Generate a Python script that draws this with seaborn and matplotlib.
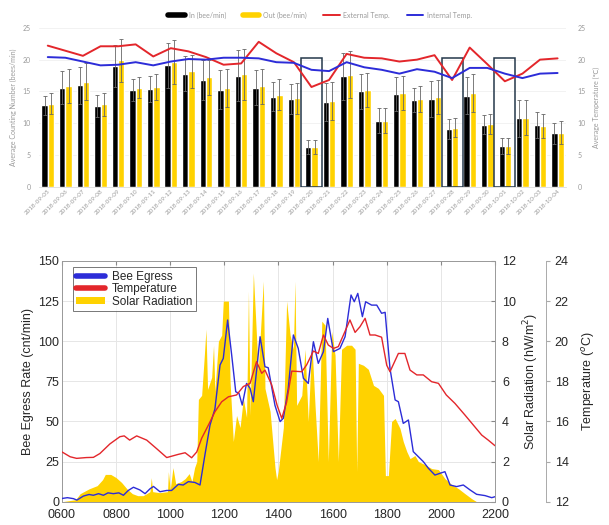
import numpy as np
import pandas as pd
import matplotlib
matplotlib.use("Agg")
import matplotlib.pyplot as plt
from matplotlib.lines import Line2D
from matplotlib.patches import Patch, Rectangle
import seaborn as sns

# ---------------- data: top chart ----------------
dates = ["2018-09-05", "2018-09-06", "2018-09-07", "2018-09-08", "2018-09-09", "2018-09-10",
         "2018-09-11", "2018-09-12", "2018-09-13", "2018-09-14", "2018-09-15", "2018-09-16",
         "2018-09-17", "2018-09-18", "2018-09-19", "2018-09-20", "2018-09-21", "2018-09-22",
         "2018-09-23", "2018-09-24", "2018-09-25", "2018-09-26", "2018-09-27", "2018-09-28",
         "2018-09-29", "2018-09-30", "2018-10-01", "2018-10-02", "2018-10-03", "2018-10-04"]
bee_in = [12.8, 15.6, 16.0, 12.7, 19.0, 15.2, 15.4, 19.1, 17.8, 16.8, 15.3, 17.5, 15.6, 14.2, 13.8,
          6.3, 13.3, 17.4, 15.0, 10.4, 14.6, 13.6, 13.8, 9.1, 14.3, 9.8, 6.4, 10.8, 9.7, 8.4]
bee_out = [13.1, 15.9, 16.5, 13.0, 19.9, 15.6, 15.7, 19.6, 18.2, 17.2, 15.5, 17.7, 15.8, 14.5, 13.9,
           6.3, 13.5, 17.6, 15.2, 10.4, 14.8, 13.8, 14.1, 9.3, 14.7, 9.9, 6.4, 10.9, 9.6, 8.5]
err_in = [1.5, 2.6, 2.9, 1.7, 3.3, 1.7, 2.0, 3.5, 2.8, 3.2, 3.1, 4.0, 2.7, 2.3, 2.3,
          1.1, 3.0, 3.7, 2.7, 2.0, 2.7, 1.9, 2.8, 1.5, 2.9, 1.5, 1.3, 2.9, 2.0, 1.7]
err_out = [1.6, 2.7, 2.9, 1.8, 3.4, 1.7, 2.1, 3.5, 2.6, 2.8, 3.0, 4.0, 2.7, 2.4, 2.5,
           1.1, 3.0, 3.7, 2.7, 2.0, 2.7, 2.0, 2.7, 1.5, 3.0, 1.6, 1.3, 2.8, 1.9, 1.8]
ext_temp = [22.2, 21.4, 20.6, 22.1, 22.1, 22.4, 20.5, 21.8, 21.3, 20.4, 19.2, 19.4, 22.8, 21.0, 19.6,
            15.7, 16.8, 20.9, 20.3, 20.2, 19.7, 20.0, 20.7, 16.8, 21.9, 19.3, 16.6, 17.8, 20.0, 20.2]
int_temp = [20.4, 20.3, 19.7, 19.1, 19.2, 19.6, 19.1, 19.7, 20.1, 20.0, 20.3, 20.3, 20.2, 19.6, 19.5,
            18.4, 18.2, 19.6, 18.8, 18.4, 17.8, 18.5, 18.1, 17.1, 18.7, 18.7, 17.8, 17.1, 17.8, 17.9]
boxed_dates = ["2018-09-20", "2018-09-28", "2018-10-01"]
box_top = 20.3

# ---------------- data: bottom chart ----------------
bee_hours = [6.0, 6.2, 6.42, 6.55, 6.79, 7.0, 7.16, 7.35, 7.53, 7.7, 7.9, 8.1, 8.27, 8.45, 8.64, 8.88,
             9.07, 9.25, 9.38, 9.62, 9.87, 10.05, 10.3, 10.48, 10.67, 10.91, 11.1, 11.28, 11.47, 11.65,
             11.84, 11.96, 12.12, 12.27, 12.42, 12.54, 12.66, 12.82, 12.95, 13.07, 13.32, 13.5, 13.62,
             13.87, 14.06, 14.18, 14.36, 14.55, 14.73, 14.92, 15.1, 15.29, 15.47, 15.66, 15.82, 16.03,
             16.27, 16.46, 16.68, 16.8, 16.93, 17.1, 17.22, 17.44, 17.63, 17.81, 17.94, 18.12, 18.31,
             18.43, 18.61, 18.8, 18.98, 19.17, 19.35, 19.54, 19.78, 19.97, 20.15, 20.34, 20.58, 20.83,
             21.08, 21.32, 21.63, 21.88, 22.0]
bee_rate = [2, 2.5, 1.9, 1, 3.5, 4.5, 4, 5, 4, 5.5, 5, 5.5, 4, 7, 9, 7.3,
            5, 8, 9.5, 6.2, 7, 7, 10.8, 10.4, 12.5, 12, 10.4, 29, 47.8, 57.7,
            85.2, 89.3, 113.2, 91.4, 68.5, 67.5, 60.2, 73.7, 70.6, 62.3, 102.8, 84.1, 83.5,
            60, 49.9, 52, 70.6, 103.9, 95.5, 76.9, 73.7, 99.7, 86.2, 93.5, 114.2, 93.5,
            95.5, 102.8, 128.8, 124.6, 129.8, 115.3, 124.6, 122.5, 122.5, 117.4, 118, 83, 63.4,
            62.3, 48.8, 50.9, 31.2, 28, 25, 20.8, 16.6, 17.7, 18.7, 10.4, 9.4, 10.4,
            7.3, 4.6, 3.8, 2.5, 3.1]

temp_hours = [6.0, 6.3, 6.54, 6.9, 7.16, 7.4, 7.77, 8.14, 8.3, 8.5, 8.76, 9.13, 9.5, 9.87, 10.3, 10.55,
              10.79, 10.98, 11.16, 11.41, 11.65, 11.9, 12.15, 12.45, 12.7, 12.95, 13.19, 13.38, 13.5,
              13.75, 13.95, 14.12, 14.3, 14.49, 14.86, 15.04, 15.29, 15.47, 15.66, 15.84, 16.03, 16.21,
              16.4, 16.64, 16.83, 17.01, 17.2, 17.38, 17.57, 17.81, 18.0, 18.12, 18.43, 18.67, 18.86,
              19.11, 19.35, 19.66, 19.91, 20.2, 20.52, 20.89, 21.2, 21.51, 21.75, 22.0]
temp_c = [14.48, 14.24, 14.16, 14.2, 14.21, 14.4, 14.88, 15.24, 15.28, 15.07, 15.28, 15.07, 14.64, 14.2,
          14.36, 14.44, 14.19, 14.48, 15.16, 15.82, 16.48, 16.98, 17.23, 17.32, 17.74, 17.9, 18.98, 18.4,
          18.56, 17.82, 16.8, 16.16, 16.96, 18.51, 18.48, 18.82, 19.51, 19.39, 20.31, 19.81, 19.64, 19.73,
          20.31, 21.06, 20.44, 20.72, 21.14, 20.31, 20.31, 20.2, 18.8, 18.48, 19.39, 19.39, 18.56,
          18.32, 18.32, 17.98, 17.9, 17.32, 16.9, 16.32, 15.82, 15.32, 15.07, 14.79]

solar_hours = [6.0, 6.5, 6.67, 7.0, 7.3, 7.5, 7.6, 7.8, 8.0, 8.2, 8.4, 8.6, 8.8, 9.0, 9.25, 9.3, 9.35,
               9.6, 9.9, 9.93, 10.0, 10.1, 10.2, 10.4, 10.55, 10.7, 10.8, 10.9, 10.98, 11.04, 11.16,
               11.26, 11.32, 11.38, 11.53, 11.6, 11.65, 11.78, 11.9, 11.96, 12.15, 12.21, 12.33, 12.45,
               12.58, 12.7, 12.82, 12.89, 12.95, 13.07, 13.16, 13.25, 13.44, 13.5, 13.69, 13.87, 13.93,
               13.99, 14.18, 14.3, 14.43, 14.55, 14.61, 14.67, 14.86, 14.98, 15.1, 15.23, 15.35, 15.47,
               15.6, 15.72, 15.84, 15.97, 16.09, 16.21, 16.33, 16.52, 16.7, 16.83, 16.89, 16.95, 17.14,
               17.32, 17.51, 17.69, 17.88, 17.95, 18.06, 18.18, 18.31, 18.49, 18.61, 18.74, 18.86,
               19.04, 19.17, 19.41, 19.66, 19.91, 20.15, 20.4, 20.65, 20.89, 21.14, 21.32, 22.0]
solar_rad = [0, 0.1, 0.4, 0.64, 0.8, 1.1, 1.36, 1.36, 1.2, 0.96, 0.64, 0.4, 0.3, 0.3, 0.5, 1.2, 0.5,
             0.45, 0.5, 1.5, 0.6, 1.7, 0.9, 1.0, 1.15, 1.4, 1.0, 1.7, 2.0, 5.1, 5.3,
             7.3, 8.6, 5.6, 6.2, 7.8, 5.5, 8.0, 8.3, 10.0, 10.0, 6.0, 3.0, 4.3,
             3.7, 5.15, 4.2, 10.5, 4.3, 11.4, 9.0, 6.5, 11.0, 5.65, 4.5, 1.7, 1.1,
             1.5, 3.7, 10.0, 8.3, 7.6, 11.0, 4.8, 5.3, 7.6, 4.0, 8.0, 4.8, 2.0,
             9.0, 8.8, 2.0, 8.5, 7.3, 2.0, 7.6, 7.8, 7.8, 7.6, 1.5, 6.9, 6.8,
             6.6, 5.8, 5.65, 5.3, 1.3, 1.3, 4.0, 4.15, 3.65, 3.0, 2.5, 2.15,
             2.3, 2.0, 1.85, 1.65, 1.6, 1.15, 0.85, 0.65, 0.4, 0.15, 0.0, 0.0]

hour_ticks = [6, 8, 10, 12, 14, 16, 18, 20, 22]
hour_labels = ["0600", "0800", "1000", "1200", "1400", "1600", "1800", "2000", "2200"]

# ---------------- style ----------------
sns.set_style("white")
plt.rcParams["font.family"] = ["Lato", "DejaVu Sans"]

GOLD = "#FFD200"
RED = "#E3262B"
BLUE = "#2C2CD8"
GREY = "#9a9a9a"

fig = plt.figure(figsize=(6.09, 5.25), dpi=100)

# ================= top chart =================
ax1 = fig.add_axes([0.064, 0.644, 0.866, 0.303])
df = pd.DataFrame({
    "date": dates * 2,
    "value": bee_in + bee_out,
    "kind": ["In (bee/min)"] * len(dates) + ["Out (bee/min)"] * len(dates),
})
sns.barplot(data=df, x="date", y="value", hue="kind", palette=["#000000", GOLD],
            width=0.72, errorbar=None, legend=False, ax=ax1, saturation=1)
for cont, errs in zip(ax1.containers, [err_in, err_out]):
    xs = [b.get_x() + b.get_width() / 2 for b in cont]
    hs = [b.get_height() for b in cont]
    ax1.errorbar(xs, hs, yerr=errs, fmt="none", ecolor="#666666", elinewidth=0.6,
                 capsize=1.6, capthick=0.6)
ax1.set_ylim(0, 25)
ax1.set_xlim(-0.5, len(dates) - 0.5)
ax1.set_yticks([0, 5, 10, 15, 20, 25])
ax1.tick_params(axis="y", labelsize=5, colors=GREY, length=0, pad=6)
ax1.tick_params(axis="x", labelsize=4.5, colors=GREY, length=0, pad=1)
for lab in ax1.get_xticklabels():
    lab.set_rotation(45)
    lab.set_ha("right")
    lab.set_rotation_mode("anchor")
ax1.set_xlabel("")
ax1.set_ylabel("Average Counting Number (bees/min)", fontsize=5, color=GREY, labelpad=4)
ax1.grid(axis="y", color="#f0f0f0", lw=0.6)
ax1.set_axisbelow(True)
for s in ["top", "right", "left"]:
    ax1.spines[s].set_visible(False)
ax1.spines["bottom"].set_color("#dddddd")
ax1.spines["bottom"].set_linewidth(0.6)

for d in boxed_dates:
    i = dates.index(d)
    ax1.add_patch(Rectangle((i - 0.6, 0), 1.2, box_top, fill=False, edgecolor="#25384a",
                            lw=1.1, zorder=6))

ax1b = ax1.twinx()
idx = np.arange(len(dates))
sns.lineplot(x=idx, y=ext_temp, color=RED, lw=1.4, ax=ax1b)
sns.lineplot(x=idx, y=int_temp, color=BLUE, lw=1.4, ax=ax1b)
ax1b.set_ylim(0, 25)
ax1b.set_yticks([0, 5, 10, 15, 20, 25])
ax1b.tick_params(axis="y", labelsize=5, colors=GREY, length=0, pad=8)
ax1b.set_ylabel("Average Temperature (\u2103)", fontsize=5, color=GREY, labelpad=5)
for s in ax1b.spines.values():
    s.set_visible(False)

handles = [Line2D([], [], color="#000000", lw=4), Line2D([], [], color=GOLD, lw=4),
           Line2D([], [], color=RED, lw=1.4), Line2D([], [], color=BLUE, lw=1.4)]
labels = ["In (bee/min)", "Out (bee/min)", "External Temp.", "Internal Temp."]
leg = ax1.legend(handles, labels, loc="center", bbox_to_anchor=(0.533, 1.08), ncol=4,
                 frameon=False, fontsize=5, handlelength=2.4, columnspacing=2.4,
                 handletextpad=0.5)
for t in leg.get_texts():
    t.set_color(GREY)

# ================= bottom chart =================
FONT2 = ["Liberation Sans", "DejaVu Sans"]
axs = fig.add_axes([0.1018, 0.0444, 0.711, 0.4585])   # solar (drawn lowest)
ax = fig.add_axes([0.1018, 0.0444, 0.711, 0.4585], sharex=axs)  # bee egress
axt = fig.add_axes([0.1018, 0.0444, 0.711, 0.4585], sharex=axs)  # temperature
axs.set_zorder(0)
ax.set_zorder(1)
axt.set_zorder(2)
ax.patch.set_visible(False)
axt.patch.set_visible(False)

axs.fill_between(solar_hours, 0, solar_rad, color=GOLD, lw=0, zorder=2)
axs.set_ylim(0, 12)
axs.set_yticks([0, 2, 4, 6, 8, 10, 12])
axs.yaxis.tick_right()
axs.yaxis.set_label_position("right")
axs.grid(True, color="#e6e6e6", lw=0.7)
axs.set_axisbelow(True)
axs.set_ylabel("Solar Radiation (hW/m$^2$)", fontsize=9, family=FONT2, labelpad=4)
axs.tick_params(axis="y", direction="in", length=3, labelsize=9, pad=5, color="#888888")
axs.tick_params(axis="x", direction="in", length=3, labelsize=9, top=True, color="#888888")
for lab in axs.get_yticklabels() + axs.get_xticklabels():
    lab.set_family(FONT2)
for s in axs.spines.values():
    s.set_color("#999999")
    s.set_linewidth(0.7)

sns.lineplot(x=bee_hours, y=bee_rate, color=BLUE, lw=1.0, ax=ax)
ax.set_ylim(0, 150)
ax.set_yticks([0, 25, 50, 75, 100, 125, 150])
ax.set_xlim(6, 22)
ax.set_xticks(hour_ticks)
ax.set_xticklabels(hour_labels)
ax.tick_params(axis="y", direction="in", length=3, labelsize=9, pad=2, color="#888888")
ax.tick_params(axis="x", direction="in", length=3, labelsize=9, pad=5, color="#888888")
for lab in ax.get_yticklabels() + ax.get_xticklabels():
    lab.set_family(FONT2)
ax.set_ylabel("Bee Egress Rate (cnt/min)", fontsize=9, family=FONT2, labelpad=3)
for s in ax.spines.values():
    s.set_visible(False)
axs.tick_params(axis="x", labelbottom=False)

sns.lineplot(x=temp_hours, y=temp_c, color=RED, lw=1.0, ax=axt)
axt.set_ylim(12, 24)
axt.set_yticks([12, 14, 16, 18, 20, 22, 24])
axt.yaxis.tick_right()
axt.yaxis.set_label_position("right")
axt.spines["right"].set_position(("outward", 37))
for s in ["top", "bottom", "left"]:
    axt.spines[s].set_visible(False)
axt.spines["right"].set_color("#aaaaaa")
axt.spines["right"].set_linewidth(0.7)
axt.tick_params(axis="y", direction="out", length=3, labelsize=9, pad=3, color="#aaaaaa")
axt.tick_params(axis="x", bottom=False, labelbottom=False)
for lab in axt.get_yticklabels():
    lab.set_family(FONT2)
axt.set_ylabel("Temperature ($^{o}$C)", fontsize=9, family=FONT2, labelpad=8)

h2 = [Line2D([], [], color=BLUE, lw=4), Line2D([], [], color=RED, lw=4),
      Patch(facecolor=GOLD, edgecolor="none")]
l2 = ["Bee Egress", "Temperature", "Solar Radiation"]
leg2 = axt.legend(h2, l2, loc="upper left", bbox_to_anchor=(0.025, 0.975), borderaxespad=0,
                  prop={"family": FONT2, "size": 8.5}, frameon=True, fancybox=False,
                  handlelength=2.4, handleheight=0.6, labelspacing=0.05, borderpad=0.3,
                  handletextpad=0.6)
leg2.get_frame().set_edgecolor("#555555")
leg2.get_frame().set_linewidth(0.7)

fig.savefig("out.png", dpi=100)
